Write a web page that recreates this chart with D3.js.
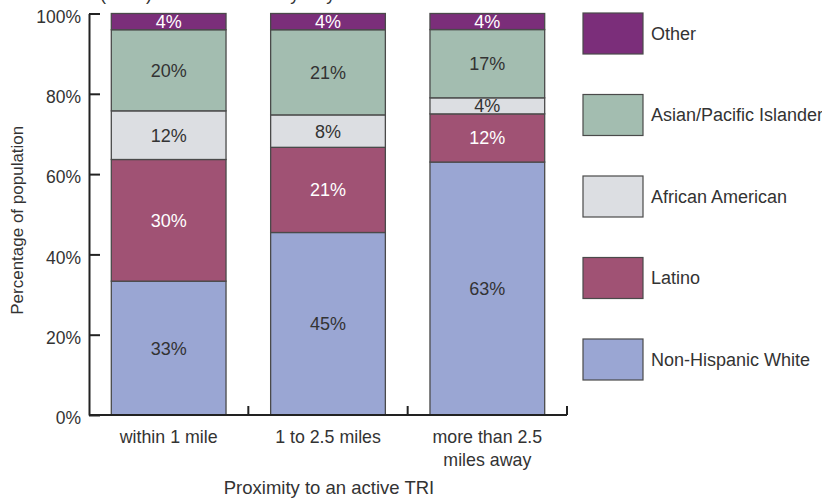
<!DOCTYPE html>
<html>
<head>
<meta charset="utf-8">
<script src="https://cdn.jsdelivr.net/npm/d3@7"></script>
<style>
  html, body { margin: 0; padding: 0; background: #fff; }
  svg { display: block; font-family: "Liberation Sans", Arial, Helvetica, sans-serif; }
</style>
</head>
<body>
<svg id="chart" width="822" height="498"></svg>
<script>
// Distance bands around active TRI facilities
const categories = ["within 1 mile", "1 to 2.5 miles", "more than 2.5 miles away"];
const categoryLines = [["within 1 mile"], ["1 to 2.5 miles"], ["more than 2.5", "miles away"]];

// Race / ethnicity groups, bottom of the stack first
const groups = ["Non-Hispanic White", "Latino", "African American", "Asian/Pacific Islander", "Other"];

// Share of population (%) in each distance band
const nonHispanicWhite = [33, 45, 63];
const latino = [30, 21, 12];
const africanAmerican = [12, 8, 4];
const asianPacificIslander = [20, 21, 17];
const other = [4, 4, 4];

const yTicks = [0, 20, 40, 60, 80, 100];

const colors = ["#9aa6d3", "#a05274", "#dcdee2", "#a3bdb0", "#7b2e7a"];
const labelColors = ["#333", "#fff", "#333", "#333", "#fff"];

const seriesValues = [nonHispanicWhite, latino, africanAmerican, asianPacificIslander, other];
const rows = categories.map((c, i) => {
  const r = { category: c };
  groups.forEach((g, j) => { r[g] = seriesValues[j][i]; });
  return r;
});

const svg = d3.select("#chart");
const plotLeft = 89, plotRight = 567, plotTop = 13.5, plotBottom = 415;

const x = d3.scaleBand().domain(categories).range([plotLeft, plotRight])
  .paddingInner(0.28).paddingOuter(0.14);
const y = d3.scaleLinear().domain([0, 1]).range([plotBottom, plotTop]);
const yPct = d3.scaleLinear().domain([0, 100]).range([plotBottom, plotTop]);

const stack = d3.stack().keys(groups).offset(d3.stackOffsetExpand);
const stacked = stack(rows);

// Caption running off the top edge
svg.append("text")
  .attr("x", 34).attr("y", 0)
  .attr("font-size", 18).attr("fill", "#333")
  .text("Census (2000) in the nine-county Bay Area");

// Stacked bars
const layer = svg.append("g").selectAll("g").data(stacked).join("g")
  .attr("fill", (d, i) => colors[i]);

layer.selectAll("rect").data(d => d).join("rect")
  .attr("x", d => x(d.data.category))
  .attr("width", x.bandwidth())
  .attr("y", d => y(d[1]))
  .attr("height", d => y(d[0]) - y(d[1]))
  .attr("stroke", "#4a4a4a")
  .attr("stroke-width", 1.3);

// Segment value labels
stacked.forEach((s, i) => {
  svg.append("g").selectAll("text").data(s).join("text")
    .attr("x", d => x(d.data.category) + x.bandwidth() / 2)
    .attr("y", d => (y(d[0]) + y(d[1])) / 2)
    .attr("dy", "0.36em")
    .attr("text-anchor", "middle")
    .attr("font-size", 18)
    .attr("fill", labelColors[i])
    .text(d => d.data[s.key] + "%");
});

// Y axis with inward ticks
const yAxis = d3.axisLeft(yPct).tickValues(yTicks).tickFormat(d => d + "%")
  .tickSize(-11).tickSizeOuter(0).tickPadding(8);
const gy = svg.append("g").attr("transform", `translate(${plotLeft},0)`).call(yAxis);
gy.selectAll("path, line").attr("stroke", "#222").attr("stroke-width", 2);
gy.selectAll("text").attr("font-size", 17.5).attr("fill", "#333")
  .attr("font-family", "Liberation Sans, Arial, sans-serif").attr("dy", "0.5em");

// X axis baseline with band separators
const gx = svg.append("g");
gx.append("line").attr("x1", plotLeft).attr("x2", plotRight).attr("y1", plotBottom).attr("y2", plotBottom)
  .attr("stroke", "#222").attr("stroke-width", 2);
const bounds = d3.range(1, categories.length + 1).map(i => x.range()[0] + i * x.step());
gx.selectAll("line.sep").data(bounds).join("line").attr("class", "sep")
  .attr("x1", d => d).attr("x2", d => d).attr("y1", plotBottom).attr("y2", plotBottom - 9)
  .attr("stroke", "#222").attr("stroke-width", 2);

// Category labels
const catText = svg.append("g").selectAll("text").data(categories).join("text")
  .attr("x", d => x(d) + x.bandwidth() / 2)
  .attr("y", 443)
  .attr("text-anchor", "middle")
  .attr("font-size", 17.8).attr("fill", "#333");
catText.selectAll("tspan").data((d, i) => categoryLines[i]).join("tspan")
  .attr("x", function () { return d3.select(this.parentNode).attr("x"); })
  .attr("dy", (d, i) => i === 0 ? 0 : 22.5)
  .text(d => d);

// Axis titles
svg.append("text")
  .attr("x", (x.range()[0] + x.range()[1]) / 2 + 1).attr("y", 494)
  .attr("text-anchor", "middle").attr("font-size", 18.5).attr("fill", "#333")
  .text("Proximity to an active TRI");

svg.append("text")
  .attr("transform", `translate(23,${(plotTop + plotBottom) / 2 + 6}) rotate(-90)`)
  .attr("text-anchor", "middle").attr("font-size", 17).attr("fill", "#333")
  .text("Percentage of population");

// Legend, top entry is the top of the stack
const legendOrder = groups.slice().reverse();
const legendY = d3.scalePoint().domain(legendOrder).range([13, 339]);
const legend = svg.append("g").selectAll("g").data(legendOrder).join("g")
  .attr("transform", d => `translate(583,${legendY(d)})`);
legend.append("rect")
  .attr("width", 60).attr("height", 41)
  .attr("fill", d => colors[groups.indexOf(d)])
  .attr("stroke", "#4a4a4a").attr("stroke-width", 1.2);
legend.append("text")
  .attr("x", 68).attr("y", 20.5).attr("dy", "0.36em")
  .attr("font-size", 18).attr("fill", "#333")
  .text(d => d);
</script>
</body>
</html>
